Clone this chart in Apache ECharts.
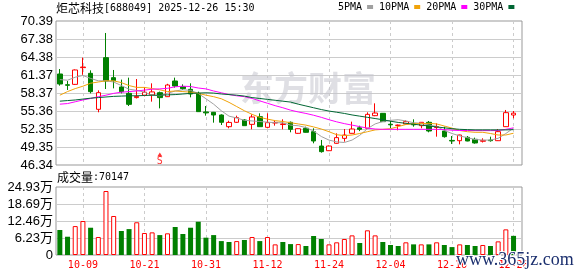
<!DOCTYPE html>
<html><head><meta charset="utf-8">
<script src="https://cdn.jsdelivr.net/npm/echarts@6/dist/echarts.min.js"></script>
<style>html,body{margin:0;padding:0;background:#fff}#c{width:578px;height:276px}</style>
</head><body><div id="c"></div>
<script>
const stockName = '炬芯科技';
const stockInfo = '[688049] 2025-12-26 15:30';
const volLabel = '成交量';
const dates = ['09-26','09-29','09-30','10-09','10-10','10-13','10-14','10-15','10-16','10-17',
 '10-20','10-21','10-22','10-23','10-24','10-27','10-28','10-29','10-30','10-31',
 '11-03','11-04','11-05','11-06','11-07','11-10','11-11','11-12','11-13','11-14',
 '11-17','11-18','11-19','11-20','11-21','11-24','11-25','11-26','11-27','11-28',
 '12-01','12-02','12-03','12-04','12-05','12-08','12-09','12-10','12-11','12-12',
 '12-15','12-16','12-17','12-18','12-19','12-22','12-23','12-24','12-25','12-26'];
const openP = [61.54,59.75,59.81,62.6,61.65,55.64,64.27,60.93,59.37,58.31,
 57.6,58.0,58.03,58.42,57.75,60.37,59.42,58.98,58.31,55.2,
 55.14,54.69,52.74,53.47,53.86,53.13,54.41,52.63,53.35,53.1,
 53.47,51.63,52.47,51.91,49.51,48.73,49.96,50.79,51.63,52.55,
 52.47,54.58,54.97,53.15,52.95,53.19,53.2,52.91,53.47,52.6,
 52.02,50.45,50.40,50.96,50.63,50.3,50.5,50.40,52.74,54.69];
const closeP = [59.87,59.65,62.21,62.7,58.59,58.42,60.37,60.43,58.59,56.47,
 57.8,58.5,58.55,57.59,59.70,59.53,59.09,58.2,55.25,55.05,
 54.69,53.47,53.45,54.25,52.91,54.36,52.74,53.41,53.45,53.2,
 52.3,52.4,51.8,50.35,48.57,49.51,50.91,51.35,52.35,52.3,
 54.8,55.02,53.58,53.05,53.0,53.58,53.05,53.47,52.02,52.75,
 51.07,50.35,51.35,50.35,50.02,50.45,50.4,51.91,55.08,55.0];
const lowP = [59.59,58.87,59.7,61.4,58.31,55.14,59.03,59.14,58.3,56.19,
 57.45,57.8,56.92,55.80,57.7,59.26,58.87,57.64,55.2,54.58,
 53.41,53.02,52.47,53.36,52.9,52.3,52.7,52.47,52.91,52.3,
 51.8,51.55,51.75,49.96,48.4,48.7,49.9,50.24,51.6,52.0,
 52.35,54.5,53.55,52.47,52.13,53.1,52.74,52.47,51.8,51.07,
 50.91,49.85,49.79,50.3,49.9,50.1,50.24,50.35,52.7,54.13];
const highP = [62.37,60.37,62.3,64.27,62.15,58.81,68.39,62.21,60.6,60.93,
 60.7,59.3,59.98,58.6,59.9,60.93,59.81,59.98,58.59,56.19,
 55.2,54.8,53.74,54.58,54.0,54.8,54.97,54.97,53.86,53.97,
 53.6,52.45,52.74,52.47,50.52,49.6,51.63,52.35,53.58,52.9,
 55.14,56.64,55.0,53.69,53.1,53.8,53.97,53.5,53.69,53.3,
 52.74,51.18,51.4,51.18,50.91,50.8,51.07,52.35,55.53,55.36];
const ma5 = [60.6,60.5,61.0,61.3,60.8,60.4,60.4,60.2,59.6,59.0,
 58.8,58.5,58.0,57.9,58.3,58.7,58.9,58.8,58.3,57.4,
 56.5,55.4,54.5,54.2,53.8,53.7,53.6,53.5,53.4,53.4,
 53.0,52.9,52.6,52.0,51.1,50.5,50.2,50.1,50.5,51.3,
 52.4,53.2,53.6,53.8,53.9,53.7,53.4,53.3,53.0,52.8,
 52.1,51.6,51.2,50.9,50.6,50.5,50.5,50.8,51.6,52.5];
const ma10 = [58.0,58.6,59.1,59.5,60.0,60.2,60.4,60.4,60.1,59.6,
 59.3,59.3,59.1,58.9,58.6,58.7,58.6,58.5,58.3,58.0,
 57.75,57.4,56.8,56.1,55.4,54.8,54.3,54.0,53.75,53.6,
 53.4,53.2,53.0,52.7,52.35,51.9,51.4,51.25,51.35,51.6,
 51.9,52.2,52.3,52.4,52.75,53.1,53.25,53.25,53.3,53.2,
 52.85,52.5,52.1,51.9,51.8,51.8,51.6,51.35,51.35,51.65];
const ma20 = [56.5,56.6,56.9,57.2,57.45,57.75,58.0,58.3,58.5,58.6,
 58.7,58.85,59.0,59.05,59.15,59.4,59.5,59.45,59.2,59.05,
 58.7,58.4,58.1,57.9,57.75,57.45,57.05,56.65,56.25,55.9,
 55.5,55.2,54.95,54.65,54.3,53.9,53.55,53.25,53.0,52.75,
 52.5,52.35,52.3,52.3,52.3,52.3,52.3,52.3,52.3,52.3,
 52.25,52.15,52.1,52.1,52.08,52.08,52.08,52.1,52.3,52.55];
const ma30 = [57.0,57.1,57.2,57.35,57.5,57.6,57.7,57.8,57.85,57.9,
 57.9,57.95,58.0,58.0,58.05,58.1,58.2,58.3,58.35,58.4,
 58.35,58.2,58.1,58.0,57.85,57.6,57.45,57.3,57.15,57.0,
 56.85,56.5,56.2,55.9,55.6,55.35,55.15,54.95,54.7,54.5,
 54.3,54.1,53.9,53.65,53.45,53.3,53.15,53.0,52.85,52.7,
 52.55,52.4,52.3,52.25,52.2,52.2,52.2,52.2,52.2,52.25];
const volume = [91650,67000,106000,124600,100000,66000,234600,143000,88000,95000,
 120000,80700,83000,73000,79400,102600,77000,100000,122000,63500,
 73000,51000,47700,51000,55000,66000,51000,66000,39000,47700,
 40000,40000,33000,69700,58700,39000,46500,58700,72000,44000,
 90500,72000,47700,36700,33000,46500,39000,39000,39000,46500,
 36700,29000,39000,36700,33000,36700,33000,50000,94000,70147];
const volUp = [0,0,1,1,0,1,1,1,0,0, 1,1,1,0,1,0,0,0,0,0, 0,0,0,1,0,1,0,1,1,0,
 0,1,0,0,0,1,1,1,1,0, 1,1,0,0,0,1,0,1,0,1, 0,0,1,0,0,1,0,1,1,0];
const maNames = ['5PMA','10PMA','20PMA','30PMA'];
const priceTicks = ['46.34','49.35','52.35','55.36','58.37','61.37','64.38','67.38','70.39'];
const volTicks = [0,62325,124650,186975,249300];
const volTickLabels = ['0','6.23万','12.46万','18.69万','24.93万'];
const dateTickIdx = [3,11,19,27,35,43,51,59];
const signalPoints = [[13,48.1]];
const signalText = 'S';

const RED='#ff0000', GREEN='#008000';
const maColors = ['#a0a0a0','#f0a30a','#ff00ff','#006633'];
const numFont = "'Liberation Sans','Noto Sans CJK SC'";
const monoFont = "'DejaVu Sans Mono','Liberation Mono'";
const cjkFont = "'Noto Sans CJK SC'";
const pTickVals = priceTicks.map(Number);
const pMin = Math.min(...pTickVals), pMax = Math.max(...pTickVals);

const chart = echarts.init(document.getElementById('c'), null, {renderer:'canvas'});
const xBase = (gi, showLabel) => ({
  type:'value', gridIndex:gi, min:-0.5, max:60.1,
  axisLine:{show:false},
  axisTick:{show:false, customValues:dateTickIdx},
  axisLabel:{show:showLabel, customValues:dateTickIdx, formatter:v=>dates[Math.round(v)],
    color:RED, fontFamily:monoFont, fontSize:10, margin:5},
  splitLine:{show:true, lineStyle:{color:'#cccccc', type:[3,3], width:1}}
});
const maSeries = [ma5,ma10,ma20,ma30].map((arr,k)=>({
  name:maNames[k], type:'line', xAxisIndex:0, yAxisIndex:0,
  data:arr.map((v,i)=>[i,v]), symbol:'none', showSymbol:false,
  lineStyle:{width:1, color:maColors[k]}, itemStyle:{color:maColors[k]}, z:4, silent:true
}));
const richTxt = {
  c:{fontFamily:cjkFont,fontSize:12,fontWeight:'normal',color:'#000',lineHeight:14},
  a:{fontFamily:monoFont,fontSize:10,fontWeight:'normal',color:'#000',lineHeight:14}
};
chart.setOption({
  animation:false,
  title:[
    {text:'{c|'+stockName+'}{a|'+stockInfo+'}', left:56, top:1, padding:0,
     textStyle:{fontWeight:'normal', rich:richTxt}},
    {text:'{c|'+volLabel+'}{a|:'+volume[volume.length-1]+'}', left:57, top:170, padding:0,
     textStyle:{fontWeight:'normal', rich:richTxt}}
  ],
  legend:{data:maNames, left:338, top:2, padding:0, align:'right', icon:'rect', itemWidth:6, itemHeight:4, itemGap:6,
    selectedMode:false, textStyle:{fontFamily:monoFont, fontSize:10, color:'#000'}},
  grid:[
    {left:56, top:21, width:466, height:144, show:true, borderColor:'#999', borderWidth:1},
    {left:56, top:187, width:466, height:68, show:true, borderColor:'#999', borderWidth:1}
  ],
  xAxis:[xBase(0,false), xBase(1,true)],
  yAxis:[
    {type:'value', gridIndex:0, min:pMin, max:pMax, axisLine:{show:false},
     axisTick:{show:false, customValues:pTickVals.slice(1,-1)},
     axisLabel:{customValues:pTickVals, formatter:v=>v.toFixed(2), color:'#000', fontFamily:numFont, fontSize:13, margin:3},
     splitLine:{show:true, lineStyle:{color:'#cccccc', width:1}}},
    {type:'value', gridIndex:1, min:volTicks[0], max:volTicks[volTicks.length-1], axisLine:{show:false},
     axisTick:{show:false, customValues:volTicks.slice(1,-1)},
     axisLabel:{customValues:volTicks, formatter:v=>volTickLabels[volTicks.indexOf(v)], color:'#000', fontFamily:numFont, fontSize:13, margin:3},
     splitLine:{show:true, lineStyle:{color:'#cccccc', width:1}}}
  ],
  graphic:[
    {type:'text', left:240, top:71, z:1, silent:true,
     style:{text:'东方财富', font:"bold 34px 'Noto Sans CJK SC'", fill:'rgba(196,196,206,0.55)'}},
    {type:'text', left:455, top:250, z:100, silent:true,
     style:{text:'www.365jz.com', font:"18px 'Liberation Serif'", fill:'#1b2f6e', stroke:'#ffffff', lineWidth:2}}
  ],
  series:[
    {type:'candlestick', name:'K', xAxisIndex:0, yAxisIndex:0, barWidth:5,
     data:dates.map((d,i)=>[i, openP[i], closeP[i], lowP[i], highP[i]]),
     itemStyle:{color:'#ffffff', color0:GREEN, borderColor:RED, borderColor0:GREEN, borderWidth:1}, z:3, silent:true},
    ...maSeries,
    {type:'bar', name:'VOL', xAxisIndex:1, yAxisIndex:1, barWidth:5, silent:true,
     data:volume.map((v,i)=>({value:[i,v], itemStyle: volUp[i]
        ? {color:'#ffffff', borderColor:RED, borderWidth:1}
        : {color:GREEN, borderColor:GREEN, borderWidth:0}}))},
    {type:'scatter', name:'signal', xAxisIndex:0, yAxisIndex:0, symbol:'triangle', symbolSize:[5,4],
     itemStyle:{color:RED}, data:signalPoints, silent:true, z:5,
     label:{show:true, position:'bottom', distance:0, formatter:signalText, color:RED, fontFamily:monoFont, fontSize:10}}
  ]
});
</script></body></html>
